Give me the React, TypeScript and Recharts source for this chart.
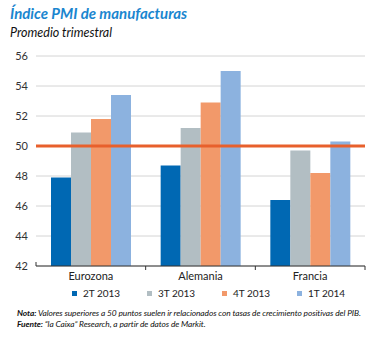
import { BarChart, Bar, XAxis, YAxis, CartesianGrid, ReferenceLine } from "recharts";

const categories = ["Eurozona", "Alemania", "Francia"];
const seriesNames = ["2T 2013", "3T 2013", "4T 2013", "1T 2014"];
const q2_2013 = [47.9, 48.7, 46.4];
const q3_2013 = [50.9, 51.2, 49.7];
const q4_2013 = [51.8, 52.9, 48.2];
const q1_2014 = [53.4, 55.0, 50.3];
const yTicks = [42, 44, 46, 48, 50, 52, 54, 56];
const threshold = 50;

const COLORS = ["#0068b3", "#b2bec3", "#f2996a", "#8cb2df"];
const KEYS = ["q2_2013", "q3_2013", "q4_2013", "q1_2014"];
const FONT = "Lato, 'Open Sans', sans-serif";

const data = categories.map((name, i) => ({
  name,
  q2_2013: q2_2013[i],
  q3_2013: q3_2013[i],
  q4_2013: q4_2013[i],
  q1_2014: q1_2014[i],
}));

const CategoryTick = (props: any) => {
  const { x, y, payload, index } = props;
  const band = 329 / categories.length;
  return (
    <g>
      <line x1={x + band / 2} x2={x + band / 2} y1={y - 8} y2={y - 4} stroke="#333" strokeWidth={1} />
      {index === 0 && (
        <line x1={x - band / 2} x2={x - band / 2} y1={y - 12} y2={y - 8} stroke="#333" strokeWidth={1} />
      )}
      <text x={x} y={y + 6} textAnchor="middle" fill="#222" fontSize={11} fontFamily={FONT}>
        {payload.value}
      </text>
    </g>
  );
};

const App = () => {
  return (
    <div
      style={{
        position: "absolute",
        left: 0,
        top: 0,
        width: 373,
        height: 338,
        background: "#fff",
        fontFamily: FONT,
      }}
    >
      <div
        style={{
          position: "absolute",
          left: 10,
          top: 4,
          fontSize: 15,
          fontWeight: 700,
          fontStyle: "italic",
          color: "#1a86cf",
          whiteSpace: "nowrap",
        }}
      >
        Índice PMI de manufacturas
      </div>
      <div
        style={{
          position: "absolute",
          left: 10,
          top: 25,
          fontSize: 12.5,
          fontStyle: "italic",
          color: "#111",
          whiteSpace: "nowrap",
        }}
      >
        Promedio trimestral
      </div>

      <div style={{ position: "absolute", left: 0, top: 0 }}>
        <BarChart
          width={373}
          height={338}
          data={data}
          margin={{ top: 56, right: 8, bottom: 42, left: 0 }}
          barGap={0}
          barSize={20}
        >
          <CartesianGrid vertical={false} stroke="#d4d4d4" />
          <XAxis
            dataKey="name"
            axisLine={{ stroke: "#333" }}
            tickLine={false}
            tick={<CategoryTick />}
            height={30}
            interval={0}
          />
          <YAxis
            domain={[42, 56]}
            ticks={yTicks}
            width={36}
            axisLine={false}
            tickLine={false}
            tick={{ fill: "#333", fontSize: 11, fontFamily: FONT }}
          />
          {KEYS.map((k, i) => (
            <Bar key={k} dataKey={k} name={seriesNames[i]} fill={COLORS[i]} isAnimationActive={false} />
          ))}
          <ReferenceLine y={threshold} stroke="#e8602c" strokeWidth={3} />
        </BarChart>
      </div>

      {seriesNames.map((s, i) => (
        <div
          key={s}
          style={{
            position: "absolute",
            left: 72 + i * 75,
            top: 287,
            fontSize: 10,
            color: "#222",
            display: "flex",
            alignItems: "center",
            whiteSpace: "nowrap",
          }}
        >
          <span style={{ display: "inline-block", width: 5, height: 5, background: COLORS[i], marginRight: 6 }} />
          {s}
        </div>
      ))}

      <div
        style={{
          position: "absolute",
          left: 17,
          top: 308,
          fontSize: 8.4,
          fontStyle: "italic",
          color: "#111",
          lineHeight: "11px",
          whiteSpace: "nowrap",
          letterSpacing: -0.08,
        }}
      >
        <div>
          <b>Nota:</b> Valores superiores a 50 puntos suelen ir relacionados con tasas de crecimiento positivas del PIB.
        </div>
        <div>
          <b>Fuente:</b> “la Caixa” Research, a partir de datos de Markit.
        </div>
      </div>
    </div>
  );
};

export default App;
